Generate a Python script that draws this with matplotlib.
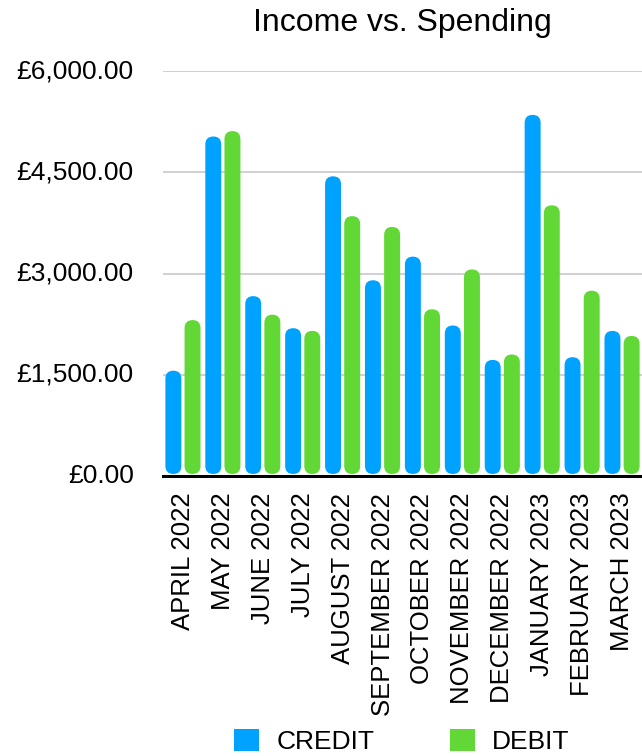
import matplotlib.pyplot as plt
import numpy as np
from matplotlib.patches import FancyBboxPatch, Patch
from matplotlib.ticker import FuncFormatter

months = ['APRIL 2022', 'MAY 2022', 'JUNE 2022', 'JULY 2022', 'AUGUST 2022',
          'SEPTEMBER 2022', 'OCTOBER 2022', 'NOVEMBER 2022', 'DECEMBER 2022',
          'JANUARY 2023', 'FEBRUARY 2023', 'MARCH 2023']
credit = [1560, 5030, 2665, 2190, 4440, 2900, 3250, 2230, 1720, 5350, 1760, 2150]
debit = [2310, 5110, 2390, 2150, 3850, 3690, 2470, 3060, 1800, 4010, 2745, 2075]
yticks = [0, 1500, 3000, 4500, 6000]

blue = '#00A2FF'
green = '#61D836'

plt.rcParams['font.family'] = ['Liberation Sans', 'DejaVu Sans']

fig = plt.figure(figsize=(6.42, 7.56), dpi=100)
ax = fig.add_axes([163 / 642, 280 / 756, 479 / 642, 405 / 756])

n = len(months)
x = np.arange(n)
ax.set_xlim(-0.5, n - 0.5)
ax.set_ylim(0, 6000)

# make rounded bars look round in pixel space
bbox = ax.get_position()
px_w = bbox.width * fig.get_figwidth() * fig.dpi
px_h = bbox.height * fig.get_figheight() * fig.dpi
aspect = (6000 / px_h) / (n / px_w)

width = 0.4
offset = 0.24


def draw_bar(xc, val, color):
    p = FancyBboxPatch((xc - width / 2, 30), width, val - 30,
                       boxstyle='round,pad=0,rounding_size=0.2',
                       mutation_aspect=aspect, facecolor=color,
                       edgecolor='none', zorder=3)
    ax.add_patch(p)


for i in range(n):
    draw_bar(x[i] - offset, credit[i], blue)
    draw_bar(x[i] + offset, debit[i], green)

ax.set_yticks(yticks)
ax.yaxis.set_major_formatter(FuncFormatter(lambda v, p: f'£{v:,.2f}'))
ax.set_xticks(x)
ax.set_xticklabels(months, rotation=90, va='top')
ax.tick_params(axis='y', length=0, pad=21, labelsize=19)
ax.tick_params(axis='x', length=0, pad=12, labelsize=18.5)
for lbl in ax.get_yticklabels():
    lbl.set_verticalalignment('center')

ax.grid(axis='y', color='#c8c8c8', linewidth=1.2, zorder=0)
for s in ['top', 'right', 'left']:
    ax.spines[s].set_visible(False)
ax.spines['bottom'].set_linewidth(2.2)
ax.spines['bottom'].set_color('black')
ax.spines['bottom'].set_zorder(4)

fig.text(402 / 642, 1 - 23 / 756, 'Income vs. Spending', ha='center', va='center', fontsize=23)

handles = [Patch(facecolor=blue, label='CREDIT'), Patch(facecolor=green, label='DEBIT')]
fig.legend(handles=handles, loc='lower center', bbox_to_anchor=(402 / 642, -0.029), ncol=2,
           frameon=False, fontsize=19, handlelength=0.95, handleheight=0.95,
           columnspacing=2.85, handletextpad=0.65)

fig.savefig('out.png', dpi=100)
